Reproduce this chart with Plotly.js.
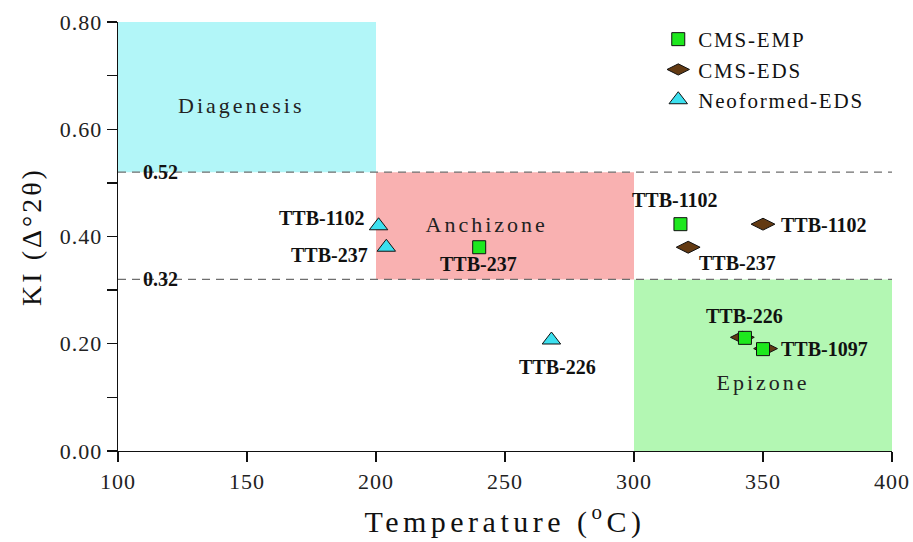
<!DOCTYPE html>
<html>
<head>
<meta charset="utf-8">
<script src="https://cdn.plot.ly/plotly-3.0.1.min.js"></script>
<style>
  html, body { margin: 0; padding: 0; background: #fff; }
  #chart { width: 913px; height: 542px; }
  .xtitle { letter-spacing: 4.5px; }
  .ytitle { letter-spacing: 3px; }
  .xtick text, .ytick text { letter-spacing: 1px; }
  .legendtext { letter-spacing: 1.8px; }
  .annotation[data-index="0"] text,
  .annotation[data-index="1"] text,
  .annotation[data-index="2"] text { letter-spacing: 3px; }
</style>
</head>
<body>
<div id="chart"></div>
<script>
// ---- Data ----
const empLabels = ["TTB-1102", "TTB-237", "TTB-226", "TTB-1097"];
const empX = [318, 240, 343, 350];
const empY = [0.423, 0.380, 0.211, 0.190];

const edsLabels = ["TTB-1102", "TTB-237", "TTB-226", "TTB-1097"];
const edsX = [350, 321, 342, 351];
const edsY = [0.423, 0.380, 0.212, 0.191];

const neoLabels = ["TTB-1102", "TTB-237", "TTB-226"];
const neoX = [201, 204, 268];
const neoY = [0.420, 0.380, 0.207];

const zoneNames = ["Diagenesis", "Anchizone", "Epizone"];
const zoneX0 = [100, 200, 300];
const zoneX1 = [200, 300, 400];
const zoneY0 = [0.52, 0.32, 0.00];
const zoneY1 = [0.80, 0.52, 0.32];
const zoneColors = ["#b2f6f8", "#f9b1b1", "#b3f7b3"];

const thresholds = [0.52, 0.32];
const thresholdLabels = ["0.52", "0.32"];

const xTickVals = [100, 150, 200, 250, 300, 350, 400];
const yTickVals = [0.0, 0.2, 0.4, 0.6, 0.8];
const yTickText = ["0.00", "0.20", "0.40", "0.60", "0.80"];

// ---- Traces ----
const serif = "Liberation Serif";
const traces = [
  {
    name: "CMS-EDS", x: edsX, y: edsY, type: "scatter", mode: "markers",
    marker: {symbol: "diamond-wide", size: 17, color: "#633a12", line: {color: "#111", width: 1}},
    legendrank: 2
  },
  {
    name: "CMS-EMP", x: empX, y: empY, type: "scatter", mode: "markers",
    marker: {symbol: "square", size: 13, color: "#1ee81e", line: {color: "#111", width: 1}},
    legendrank: 1
  },
  {
    name: "Neoformed-EDS", x: neoX, y: neoY, type: "scatter", mode: "markers",
    marker: {symbol: "triangle-up", size: 16, color: "#3ce0ef", line: {color: "#111", width: 1}},
    legendrank: 3
  }
];

// ---- Shapes ----
const shapes = [];
zoneNames.forEach((n, i) => {
  shapes.push({type: "rect", xref: "x", yref: "y", x0: zoneX0[i], x1: zoneX1[i], y0: zoneY0[i], y1: zoneY1[i],
    fillcolor: zoneColors[i], line: {width: 0}, layer: "below"});
});
thresholds.forEach(t => {
  shapes.push({type: "line", xref: "x", yref: "y", x0: 100, x1: 400, y0: t, y1: t,
    line: {color: "#6e6e6e", width: 1.3, dash: "8px,6px"}, layer: "below"});
});

// ---- Annotations ----
const annotations = [];
const zoneLabelPos = [[148, 0.645], [243, 0.423], [350, 0.128]];
zoneNames.forEach((n, i) => {
  annotations.push({x: zoneLabelPos[i][0], y: zoneLabelPos[i][1], xref: "x", yref: "y", text: n, showarrow: false,
    font: {family: serif, size: 22, color: "#222"}, xanchor: "center", yanchor: "middle"});
});
thresholds.forEach((t, i) => {
  annotations.push({x: 116.3, y: t, xref: "x", yref: "y", text: thresholdLabels[i], showarrow: false,
    font: {family: serif, size: 20, color: "#111", weight: "bold"}, xanchor: "center", yanchor: "middle"});
});
const bold = {family: serif, size: 20, color: "#111", weight: "bold"};
// label offsets (pixels) relative to their points
const neoOff = [[-12, 8, "right"], [-16, -8, "right"], [6, -27, "center"]];
neoLabels.forEach((l, i) => {
  annotations.push({x: neoX[i], y: neoY[i], xref: "x", yref: "y", text: l, showarrow: false, font: bold,
    xshift: neoOff[i][0], yshift: neoOff[i][1], xanchor: neoOff[i][2], yanchor: "middle"});
});
const empOff = [[-5, 24, "center"], [-1, -17, "center"], [0, 22, "center"], [null, null, null]];
empLabels.forEach((l, i) => {
  if (empOff[i][0] === null) return;
  annotations.push({x: empX[i], y: empY[i], xref: "x", yref: "y", text: l, showarrow: false, font: bold,
    xshift: empOff[i][0], yshift: empOff[i][1], xanchor: empOff[i][2], yanchor: "middle"});
});
const edsOff = [[16, -1, "left"], [9, -16, "left"], null, [13, 0, "left"]];
edsLabels.forEach((l, i) => {
  if (!edsOff[i]) return;
  annotations.push({x: edsX[i], y: edsY[i], xref: "x", yref: "y", text: l, showarrow: false, font: bold,
    xshift: edsOff[i][0], yshift: edsOff[i][1], xanchor: edsOff[i][2], yanchor: "middle"});
});

const layout = {
  width: 913, height: 542,
  margin: {l: 118, r: 21, t: 22, b: 91},
  paper_bgcolor: "#fff", plot_bgcolor: "#fff",
  font: {family: serif, color: "#111"},
  showlegend: true,
  legend: {x: 0.698, y: 1.007, xanchor: "left", yanchor: "top", bgcolor: "rgba(0,0,0,0)",
    font: {family: serif, size: 21, color: "#111"}, traceorder: "normal", tracegroupgap: 0},
  xaxis: {
    range: [100, 400], tickvals: xTickVals, ticks: "outside", ticklen: 10, tickwidth: 1.3, tickcolor: "#111",
    showline: true, linecolor: "#111", linewidth: 1.3, showgrid: false, zeroline: false,
    tickfont: {family: serif, size: 22, color: "#222"},
    title: {text: "Temperature (<sup>o</sup>C)", font: {family: serif, size: 30, color: "#111"}, standoff: 18}
  },
  yaxis: {
    range: [0, 0.8], tickvals: yTickVals, ticktext: yTickText, ticks: "outside", ticklen: 10, tickwidth: 1.3, tickcolor: "#111",
    minor: {dtick: 0.1, ticks: "outside", ticklen: 10, tickwidth: 1.3, tickcolor: "#111", showgrid: false},
    showline: true, linecolor: "#111", linewidth: 1.3, showgrid: false, zeroline: false,
    tickfont: {family: serif, size: 22, color: "#222"},
    title: {text: "KI (Δ°2θ)", font: {family: serif, size: 28, color: "#111"}, standoff: 10}
  },
  shapes: shapes,
  annotations: annotations
};

Plotly.newPlot("chart", traces, layout, {displayModeBar: false, staticPlot: true});
</script>
</body>
</html>
